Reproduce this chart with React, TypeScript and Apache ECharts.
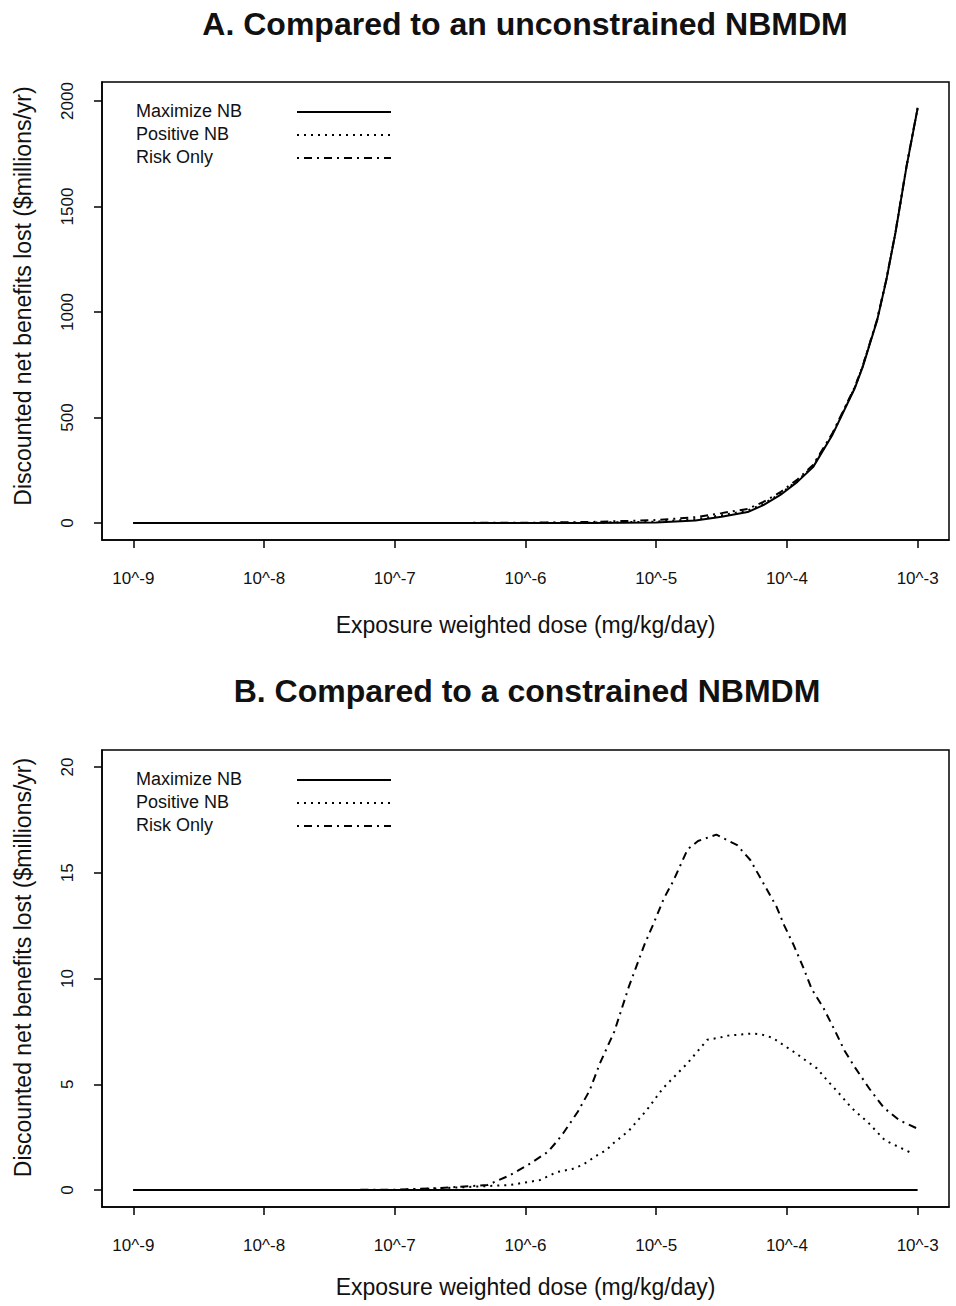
import React, { useEffect, useRef } from "react";
import * as echarts from "echarts";

// ---------- data ----------
const xTickValues = [-9, -8, -7, -6, -5, -4, -3];
const topYTicks = [0, 500, 1000, 1500, 2000];
const bottomYTicks = [0, 5, 10, 15, 20];
const seriesNames = ["Maximize NB", "Positive NB", "Risk Only"];

// Panel A (log10 dose)
const topLogDose = [-9, -8, -7, -6, -5.5, -5, -4.7, -4.5, -4.3, -4.18, -4.05, -3.92, -3.8, -3.65, -3.48, -3.42, -3.31, -3.24, -3.17, -3.085, -3];
const topMaximizeNB = [0, 0, 0, 0, 0.5, 3, 12, 30, 52, 85, 133, 195, 265, 420, 640, 740, 960, 1150, 1374, 1689, 1965];
const topPositiveNB = [0, 0, 0, 0.5, 1.7, 6.8, 18, 37, 59, 91, 139, 200, 270, 424, 644, 743, 963, 1152, 1376, 1690, 1967];
const topRiskOnly = [0, 0, 0, 1.3, 5, 14, 28, 47, 67, 100, 146, 206, 275, 428, 646, 745, 964, 1153, 1377, 1691, 1968];

// Panel B
const bottomMaxLogDose = [-9, -3];
const bottomMaximizeNB = [0, 0];
const posLogDose = [-9, -7, -6.6, -6.12, -5.89, -5.76, -5.64, -5.56, -5.45, -5.38, -5.33, -5.21, -5.07, -4.95, -4.76, -4.61, -4.52, -4.45, -4.27, -4.19, -4.11, -3.94, -3.77, -3.68, -3.62, -3.5, -3.38, -3.25, -3.03];
const posValues = [0, 0, 0.1, 0.24, 0.47, 0.85, 1.0, 1.2, 1.65, 1.9, 2.2, 2.8, 3.8, 4.8, 6.0, 7.1, 7.2, 7.3, 7.4, 7.35, 7.2, 6.5, 5.75, 5.1, 4.7, 3.85, 3.2, 2.35, 1.7];
const riskLogDose = [-9, -7.5, -7, -6.65, -6.29, -6.12, -5.96, -5.83, -5.76, -5.71, -5.6, -5.51, -5.43, -5.32, -5.21, -5.09, -5.02, -4.94, -4.87, -4.76, -4.68, -4.54, -4.38, -4.28, -4.18, -4.08, -4.02, -3.95, -3.88, -3.81, -3.72, -3.63, -3.56, -3.48, -3.37, -3.26, -3.14, -3.0];
const riskValues = [0, 0, 0.02, 0.1, 0.24, 0.7, 1.27, 1.8, 2.3, 2.7, 3.7, 4.7, 6.0, 7.5, 9.6, 11.6, 12.6, 13.8, 14.6, 16.1, 16.5, 16.8, 16.3, 15.6, 14.5, 13.4, 12.5, 11.6, 10.6, 9.5, 8.6, 7.5, 6.6, 5.8, 4.8, 3.9, 3.3, 2.9];

const titles = ["A. Compared to an unconstrained NBMDM", "B. Compared to a constrained NBMDM"];
const xAxisName = "Exposure weighted dose (mg/kg/day)";
const yAxisName = "Discounted net benefits lost ($millions/yr)";

const pairs = (xs: number[], ys: number[]) => xs.map((x, i) => [x, ys[i]]);

const FONT = "'Liberation Sans', Arial, sans-serif";
const INK = "#111";
const dotted = [2, 5];
const dashDot = [2, 5, 8, 5];
const lineTypes: any[] = ["solid", dotted, dashDot];

export default function App() {
  const ref = useRef<HTMLDivElement>(null);
  useEffect(() => {
    document.body.style.margin = "0";
    const chart = echarts.init(ref.current!, null, { renderer: "svg" });

    const mkX = (gridIndex: number, nameGap: number) => ({
      type: "value",
      gridIndex,
      min: -9.24,
      max: -2.76,
      axisLine: { show: true, onZero: false, lineStyle: { color: "#000", width: 1.5 } },
      axisTick: { show: true, customValues: xTickValues, length: 8, inside: false, lineStyle: { color: "#000", width: 1.5 } },
      axisLabel: {
        customValues: xTickValues,
        formatter: (v: number) => `10^${v}`,
        margin: 30,
        fontSize: 17,
        color: INK,
        fontFamily: FONT,
      },
      splitLine: { show: false },
      name: xAxisName,
      nameLocation: "middle",
      nameGap,
      nameTextStyle: { fontSize: 23, color: INK, fontFamily: FONT },
    });
    const mkY = (gridIndex: number, min: number, max: number, ticks: number[], shift: number) => ({
      type: "value",
      gridIndex,
      min,
      max,
      axisLine: { show: true, onZero: false, lineStyle: { color: "#000", width: 1.5 } },
      axisTick: { show: true, customValues: ticks, length: 8, inside: false, lineStyle: { color: "#000", width: 1.5 } },
      axisLabel: {
        customValues: ticks,
        formatter: (v: number) => String(v),
        rotate: 90,
        margin: 26,
        fontSize: 17,
        color: INK,
        fontFamily: FONT,
      },
      splitLine: { show: false },
      name: yAxisName,
      nameLocation: "middle",
      nameRotate: 90,
      nameGap: 68,
      nameTextStyle: { fontSize: 23, color: INK, fontFamily: FONT, padding: [0, 0, 0, shift] },
    });
    const line = (name: string, idx: number, data: number[][], type: any) => ({
      type: "line",
      name,
      xAxisIndex: idx,
      yAxisIndex: idx,
      data,
      symbol: "none",
      showSymbol: false,
      lineStyle: { color: "#000", width: 2, type },
      itemStyle: { color: "#000" },
    });
    const legendGraphic = (top: number) =>
      seriesNames.flatMap((name, i) => {
        const y = top + i * 23;
        return [
          {
            type: "text",
            left: 136,
            top: y - 11,
            style: { text: name, fontSize: 18, fontFamily: FONT, fill: INK },
          },
          {
            type: "line",
            shape: { x1: 297, y1: y - 1, x2: 391, y2: y - 1 },
            style: { stroke: "#000", lineWidth: 2, lineDash: lineTypes[i] === "solid" ? null : lineTypes[i] },
          },
        ];
      });

    chart.setOption({
      animation: false,
      backgroundColor: "#fff",
      title: [
        { text: titles[0], left: 520, top: 3, textAlign: "center", textStyle: { fontSize: 32, fontWeight: "bold", color: INK, fontFamily: FONT } },
        { text: titles[1], left: 522, top: 670, textAlign: "center", textStyle: { fontSize: 32, fontWeight: "bold", color: INK, fontFamily: FONT } },
      ],
      graphic: [...legendGraphic(113), ...legendGraphic(781)],
      grid: [
        { left: 102, top: 82, width: 847, height: 458, show: true, borderColor: "#000", borderWidth: 1.5 },
        { left: 102, top: 750, width: 847, height: 457, show: true, borderColor: "#000", borderWidth: 1.5 },
      ],
      xAxis: [mkX(0, 73), mkX(1, 68)],
      yAxis: [mkY(0, -80.4, 2090, topYTicks, 30), mkY(1, -0.8, 20.8, bottomYTicks, 22)],
      series: [
        line(seriesNames[0], 0, pairs(topLogDose, topMaximizeNB), "solid"),
        line(seriesNames[1], 0, pairs(topLogDose, topPositiveNB), dotted),
        line(seriesNames[2], 0, pairs(topLogDose, topRiskOnly), dashDot),
        line(seriesNames[0], 1, pairs(bottomMaxLogDose, bottomMaximizeNB), "solid"),
        line(seriesNames[1], 1, pairs(posLogDose, posValues), dotted),
        line(seriesNames[2], 1, pairs(riskLogDose, riskValues), dashDot),
      ],
    });
    return () => chart.dispose();
  }, []);
  return <div ref={ref} style={{ width: 956, height: 1306 }} />;
}
